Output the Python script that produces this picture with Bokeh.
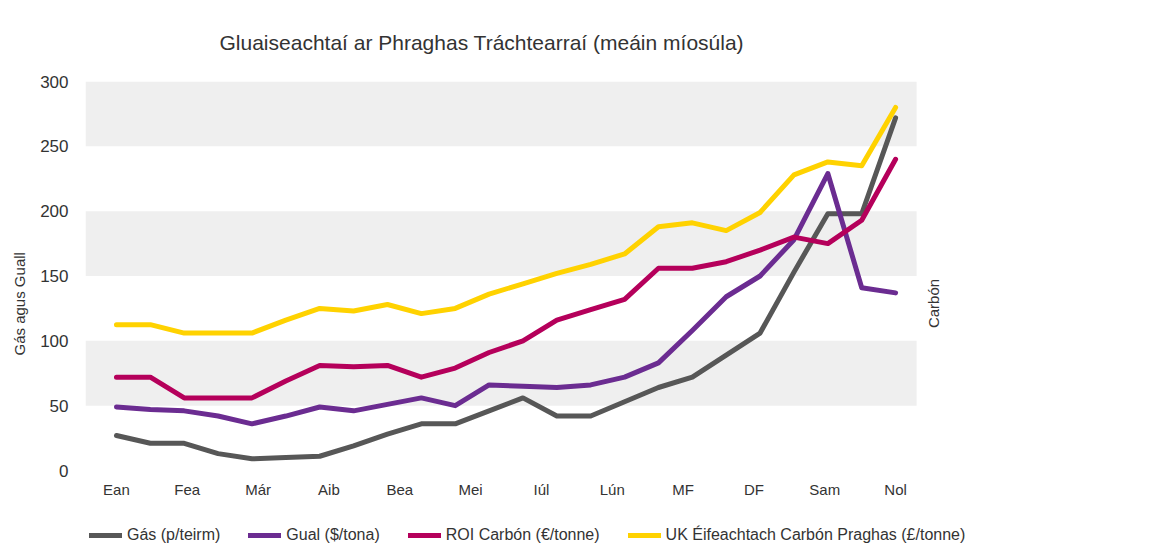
import math
from bokeh.plotting import figure
from bokeh.layouts import column
from bokeh.models import (Range1d, FixedTicker, BoxAnnotation, Legend, LegendItem, Title,
                          Label, ColumnDataSource)
from bokeh.embed import file_html
from bokeh.resources import INLINE

# ---- data ----
month_labels = ["Ean", "Fea", "Már", "Aib", "Bea", "Mei", "Iúl", "Lún", "MF", "DF", "Sam", "Nol"]
periods = list(range(24))  # half-monthly observations
gas = [27, 21, 21, 13, 9, 10, 11, 19, 28, 36, 36, 46, 56, 42, 42, 53, 64, 72, 89, 106, 153, 198, 198, 272]
coal = [49, 47, 46, 42, 36, 42, 49, 46, 51, 56, 50, 66, 65, 64, 66, 72, 83, 108, 134, 150, 178, 229, 141, 137]
roi_carbon = [72, 72, 56, 56, 56, 69, 81, 80, 81, 72, 79, 91, 100, 116, 124, 132, 156, 156, 161, 170, 180, 175, 193, 240]
uk_carbon = [112.5, 112.5, 106, 106, 106, 116, 125, 123, 128, 121, 125, 136, 144, 152, 159, 167, 188, 191, 185, 199, 228, 238, 235, 280]
series_names = ["Gás (p/teirm)", "Gual ($/tona)", "ROI Carbón (€/tonne)", "UK Éifeachtach Carbón Praghas (£/tonne)"]
series_colors = ["#575757", "#6b2c91", "#b5005b", "#ffd200"]
y_ticks = [0, 50, 100, 150, 200, 250, 300]
bands = [(50, 100), (150, 200), (250, 300)]

FONT = "Liberation Sans"
TXT = "#333333"

# x scale: plotted area spans x0..band_end (832 px); frame extends further right to hold side label
x0, band_end = -0.914, 23.62
px_per = 832 / (band_end - x0)
x1 = x0 + 916 / px_per
p = figure(width=1152, height=500, output_backend="svg", toolbar_location=None,
           x_range=Range1d(x0, x1), y_range=Range1d(0, 300),
           min_border_left=84, min_border_top=81, min_border_right=152, min_border_bottom=30)
p.outline_line_color = None
p.background_fill_color = "white"
p.xgrid.visible = False
p.ygrid.visible = False

for lo, hi in bands:
    p.add_layout(BoxAnnotation(bottom=lo, top=hi, right=band_end, fill_color="#efefef",
                               fill_alpha=1.0, line_color=None, level="underlay"))

# title
p.title.text = "Gluaiseachtaí ar Phraghas Tráchtearraí (meáin míosúla)"
p.title.text_font = FONT
p.title.text_font_size = "21px"
p.title.text_font_style = "normal"
p.title.text_color = TXT
p.title.align = "left"
p.title.offset = 134
p.title.standoff = 55

# axes
n = len(month_labels)
tick_pos = [(len(periods) - 1) * k / (n - 1) for k in range(n)]
p.xaxis.ticker = FixedTicker(ticks=tick_pos)
p.xaxis.major_label_overrides = {t: lab for t, lab in zip(tick_pos, month_labels)}
p.yaxis.ticker = FixedTicker(ticks=y_ticks)
for ax in (p.xaxis, p.yaxis):
    ax.axis_line_color = None
    ax.major_tick_line_color = None
    ax.minor_tick_line_color = None
    ax.major_tick_out = 0
    ax.major_tick_in = 0
    ax.minor_tick_out = 0
    ax.major_label_text_font = FONT
    ax.major_label_text_color = TXT
p.xaxis.major_label_text_font_size = "15px"
p.yaxis.major_label_text_font_size = "17px"
p.xaxis.major_label_standoff = 10
p.yaxis.major_label_standoff = 17

# left axis title (placed along the side)
left_title = Title(text="Gás agus Guall", align="left", offset=115, vertical_align="middle",
                   standoff=18, text_font=FONT, text_font_size="15px", text_font_style="normal",
                   text_color=TXT)
p.add_layout(left_title, "left")

# right-hand (carbon) axis title
p.add_layout(Label(x=x0 + (933 - 84) / px_per, y=(470 - 303) / (389 / 300), text="Carbón",
                   angle=math.pi / 2, text_align="center", text_baseline="middle",
                   text_font=FONT, text_font_size="15px", text_color=TXT))

# lines
renderers = []
for vals, col in zip([gas, coal, roi_carbon, uk_carbon], series_colors):
    src = ColumnDataSource(dict(x=periods, y=vals))
    r = p.line("x", "y", source=src, line_color=col, line_width=5, line_join="round", line_cap="round")
    renderers.append(r)

# legend strip below the chart
lf = figure(width=1152, height=51, output_backend="svg", toolbar_location=None,
            x_range=Range1d(0, 1), y_range=Range1d(0, 1),
            x_axis_location=None, y_axis_location=None,
            min_border_left=0, min_border_right=0, min_border_top=0, min_border_bottom=0)
lf.outline_line_color = None
lf.xgrid.visible = False
lf.ygrid.visible = False
leg_renderers = []
for col in series_colors:
    leg_renderers.append(lf.line(x=[math.nan], y=[math.nan], line_color=col, line_width=5,
                                 line_cap="round"))

legend = Legend(items=[LegendItem(label=nm, renderers=[r]) for nm, r in zip(series_names, leg_renderers)],
                orientation="horizontal", location=(1, 3), glyph_width=33, glyph_height=20,
                label_standoff=5, spacing=28, padding=3, margin=0,
                border_line_alpha=0, background_fill_alpha=0,
                label_text_font=FONT, label_text_font_size="16px", label_text_color=TXT)
lf.add_layout(legend)

layout = column(p, lf, spacing=0)
open("out.html", "w").write(file_html(layout, INLINE))
